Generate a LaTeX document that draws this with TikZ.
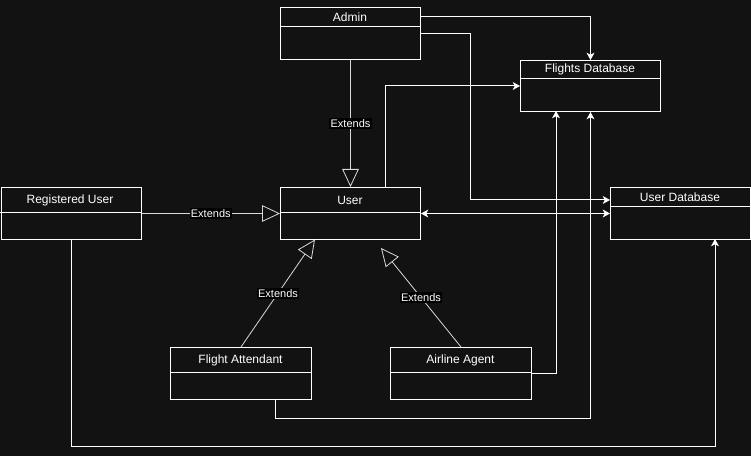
\documentclass[tikz,border=0pt]{standalone}
\usepackage{fontspec}
\setmainfont{Liberation Sans}
\usetikzlibrary{arrows.meta,calc}
\definecolor{bg}{RGB}{18,18,18}
\tikzset{
  cls/.style={draw=white, line width=0.75pt, fill=bg, minimum width=105pt, minimum height=39pt, inner sep=0pt, anchor=north west},
  ttl/.style={text=white, font=\fontsize{9}{10}\selectfont, inner sep=0pt},
  lbl/.style={fill=black, text=white, font=\fontsize{8.25}{9}\selectfont, inner sep=1pt},
  tip/.tip={Stealth[length=5.5pt, width=6pt, inset=1.5pt]},
  arr/.style={draw=white, line width=0.75pt, -tip},
  ext/.style={draw=white!85!black, line width=0.6pt, -{Triangle[open, length=13.5pt, width=12.5pt]}}
}
\begin{document}
\begin{tikzpicture}[x=0.75pt,y=-0.75pt]
\fill [bg] (0,0) rectangle (751,456);
\useasboundingbox (0,0) rectangle (751,456);
% class boxes
\node [cls] (admin) at (280,7) {};
\node [cls, minimum height=38.25pt] (fdb) at (520,60) {};
\node [cls] (reg) at (0.5,187) {};
\node [cls] (user) at (280,187) {};
\node [cls] (udb) at (610,187) {};
\node [cls, minimum width=105.75pt] (fa) at (170,347) {};
\node [cls, minimum width=105.75pt] (aa) at (390,347) {};
% headers
\draw [white, line width=0.75pt] (admin.north west) ++(0,20) -- ++(140,0);
\draw [white, line width=0.75pt] (fdb.north west) ++(0,19) -- ++(140,0);
\draw [white, line width=0.75pt] (reg.north west) ++(0,26) -- ++(140,0);
\draw [white, line width=0.75pt] (user.north west) ++(0,26) -- ++(140,0);
\draw [white, line width=0.75pt] (udb.north west) ++(0,20) -- ++(140,0);
\draw [white, line width=0.75pt] (fa.north west) ++(0,26) -- ++(141,0);
\draw [white, line width=0.75pt] (aa.north west) ++(0,26) -- ++(141,0);
\node [ttl] (admin-t) at (350,17) {Admin};
\node [ttl] (fdb-t) at (590,69.5) {Flights Database};
\node [ttl] (reg-t) at (70,200) {Registered User};
\node [ttl] (user-t) at (350,200) {User};
\node [ttl] (udb-t) at (680,197) {User Database};
\node [ttl] (fa-t) at (240.5,360) {Flight Attendant};
\node [ttl] (aa-t) at (460.5,360) {Airline Agent};
% points on the boxes
\coordinate (u-top) at (385,187);
\coordinate (u-fa) at (315,239.5);
\coordinate (u-aa) at (381,248);
\coordinate (k1) at (470,200);
\coordinate (fdb-b) at (556,111);
\coordinate (fa-b) at (275,399);
\coordinate (udb-b) at (715,239);
% extends
\draw [ext] (admin.south) -- (user.north) node [lbl, midway] {Extends};
\draw [ext] (reg.east) -- (user.west) node [lbl, midway] {Extends};
\draw [ext] (fa.north) -- (u-fa) node [lbl, midway] {Extends};
\draw [ext] (aa.north) -- (u-aa) node [lbl, midway] {Extends};
% associations
\draw [arr] (admin.east |- admin-t) -| (fdb.north);
\draw [arr] (admin.east) -| (k1) -- (k1 -| udb.west);
\draw [arr] (u-top) |- (fdb.west);
\draw [arr, tip-tip] (user.east) -- (udb.west);
\draw [arr] (aa.east) -| (fdb-b);
\draw [arr] (fa-b) -- ++(0,20) -| (fdb.south);
\draw [arr] (reg.south) -- ++(0,207) -| (udb-b);
\end{tikzpicture}
\end{document}
